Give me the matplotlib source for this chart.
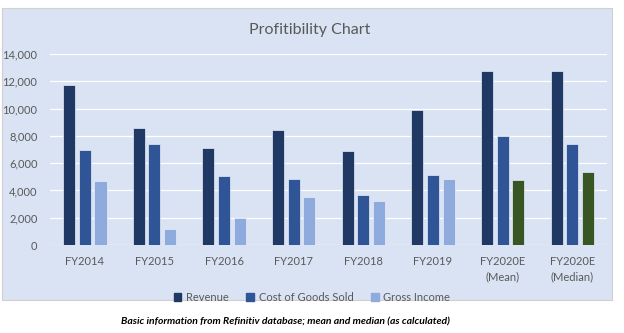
import matplotlib
matplotlib.use("Agg")
import matplotlib.pyplot as plt
from matplotlib.patches import Rectangle, Patch
import numpy as np

categories = ["FY2014", "FY2015", "FY2016", "FY2017", "FY2018", "FY2019",
              "FY2020E\n(Mean)", "FY2020E\n(Median)"]
revenue = [11700, 8550, 7100, 8400, 6900, 9900, 12750, 12750]
cogs = [6950, 7400, 5050, 4850, 3650, 5100, 8000, 7400]
gross_income = [4700, 1150, 2000, 3550, 3200, 4850, 4750, 5350]
yticks = [0, 2000, 4000, 6000, 8000, 10000, 12000, 14000]

c_rev = "#1F3864"
c_cogs = "#2F5597"
c_gi = "#8FAADC"
c_est = "#375623"
gi_colors = [c_gi] * 6 + [c_est] * 2

plt.rcParams['font.family'] = ['Lato', 'DejaVu Sans']

fig = plt.figure(figsize=(6.24, 3.33), dpi=100)
fig.patch.set_facecolor("white")
bg = Rectangle((0.004, 0.099), 0.977, 0.877, transform=fig.transFigure,
               facecolor="#DAE3F3", edgecolor="#D0D0D0", lw=0.8, zorder=-10)
fig.patches.append(bg)

ax = fig.add_axes([0.080, 0.264, 0.893, 0.574])
ax.set_zorder(1)
ax.set_facecolor("none")
x = np.arange(len(categories))
w = 0.175
off = 0.225
ax.bar(x - off, revenue, w, color=c_rev, edgecolor="#E8EEF8", lw=0.5, zorder=3)
ax.bar(x, cogs, w, color=c_cogs, edgecolor="#E8EEF8", lw=0.5, zorder=3)
ax.bar(x + off, gross_income, w, color=gi_colors, edgecolor="#E8EEF8", lw=0.5, zorder=3)

ax.set_xlim(-0.5, len(categories) - 0.5)
ax.set_ylim(0, 14000)
ax.set_yticks(yticks)
ax.set_yticklabels([f"{v:,}" for v in yticks])
ax.set_xticks(x)
ax.set_xticklabels(categories, linespacing=1.5)
ax.tick_params(axis='both', length=0, labelsize=8, colors="#595959")
ax.tick_params(axis='x', pad=8)
ax.tick_params(axis='y', pad=9)
ax.grid(axis='y', color="white", lw=0.9, zorder=0)
for s in ax.spines.values():
    s.set_visible(False)
ax.axhline(0, color="#F2F2F2", lw=0.9, zorder=2)

fig.text(0.497, 0.91, "Profitibility Chart", ha="center", va="center",
         fontsize=11.5, color="#595959")

handles = [Patch(color=c_rev), Patch(color=c_cogs), Patch(color=c_gi)]
fig.legend(handles, ["Revenue", "Cost of Goods Sold", "Gross Income"],
           loc="center", bbox_to_anchor=(0.5, 0.108), ncol=3, frameon=False,
           fontsize=8, labelcolor="#595959", handlelength=0.7, handleheight=0.7,
           handletextpad=0.4, columnspacing=1.6)

fig.text(0.458, 0.032, "Basic information from Refinitiv database; mean and median (as calculated)",
         ha="center", va="center", fontsize=7.5, fontweight="bold", fontstyle="italic",
         color="black")

fig.savefig("out.png", dpi=100)
